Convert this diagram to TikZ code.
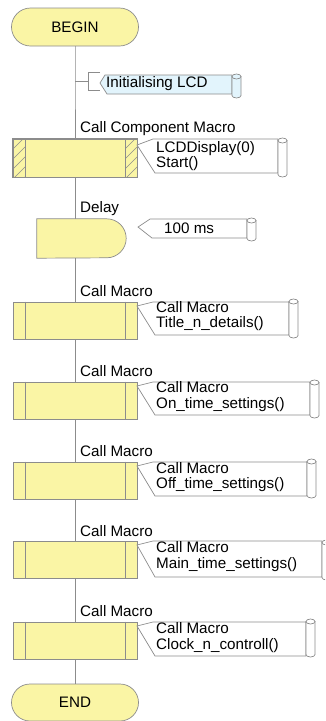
\documentclass[tikz,border=0pt]{standalone}
\usepackage{fontspec}
\setmainfont{Liberation Sans}
\usetikzlibrary{shapes.misc}

\definecolor{blockfill}{RGB}{250,245,165}
\definecolor{edgegray}{RGB}{140,140,140}
\definecolor{notefill}{RGB}{226,244,252}

% comment box: tip x, tip y, left x, top y, bottom y, right x, scroll top, scroll bottom, fill
\newcommand{\notebox}[9]{%
  \draw[flow, fill=#9] (#1,#2) -- (#3,#4) -- (#6,#4) -- (#6,#5) -- (#3+2,#5) -- cycle;
  \draw[flow, fill=#9] (#6,#7+2.5) -- (#6,#8-2.5)
     arc[start angle=180, end angle=360, x radius=4.5pt, y radius=2.5pt]
     -- (#6+9,#7+2.5) -- cycle;
  \draw[flow, fill=#9] (#6+4.5,#7+2.5) ellipse[x radius=4.5pt, y radius=2.5pt];
}

\tikzset{
  every node/.style={font=\fontsize{15.2}{15.5}\selectfont, text=black},
  flow/.style={draw=edgegray, line width=0.7pt},
  blk/.style={flow, fill=blockfill, rectangle, minimum width=124pt, minimum height=37pt, inner sep=0pt},
  term/.style={flow, fill=blockfill, rounded rectangle, minimum width=127pt, minimum height=38pt, inner sep=0pt},
  lbl/.style={anchor=west, inner sep=0pt},
  notetext/.style={anchor=west, align=left, inner sep=0pt},
}

\begin{document}
\begin{tikzpicture}[x=1pt, y=-1pt]
\useasboundingbox (0,0) rectangle (325,721);
\clip (0,0) rectangle (325,721);

% main flow blocks
\node[term] (begin) at (75,27) {BEGIN};
\node[blk, minimum height=38pt] (ccm) at (75,158) {};
\node[minimum width=89pt, minimum height=39pt, inner sep=0pt] (delay) at (81.5,238.5) {};
\node[blk] (m1) at (75,320.5) {};
\node[blk] (m2) at (75,400.5) {};
\node[blk] (m3) at (75,480.5) {};
\node[blk] (m4) at (75,560) {};
\node[blk] (m5) at (75,640.5) {};
\node[term, minimum height=37pt] (end) at (75,702.5) {END};

% main line
\coordinate (br) at (75,81);
\draw[flow] (begin.south) -- (br) -- (ccm.north);
\draw[flow] (ccm.south) -- (ccm.south |- delay.north);
\draw[flow] (ccm.south |- delay.south) -- (m1.north);
\draw[flow] (m1.south) -- (m2.north);
\draw[flow] (m2.south) -- (m3.north);
\draw[flow] (m3.south) -- (m4.north);
\draw[flow] (m4.south) -- (m5.north);
\draw[flow] (m5.south) -- (end.north);

% delay shape
\draw[flow, fill=blockfill] (delay.south west) -- (delay.north west)
  -- ([xshift=-19.5pt]delay.north east)
  arc[start angle=90, end angle=-90, radius=19.5pt] -- cycle;

% hatched side strips of the component macro
\foreach \sx in {13,125} {
  \begin{scope}
    \clip (\sx,139) rectangle (\sx+12,177);
    \foreach \k in {0,10,...,60} {
      \draw[flow, line width=0.5pt] (\sx,139+\k) -- (\sx+13,126+\k);
    }
  \end{scope}
  \draw[flow] (\sx,139) -- (\sx,177);
  \draw[flow] (\sx+12,139) -- (\sx+12,177);
}
\draw[flow] (ccm.north west) rectangle (ccm.south east);

% macro side bars
\foreach \b in {m1,m2,m3,m4,m5} {
  \draw[flow] ([xshift=13pt]\b.north west) -- ([xshift=13pt]\b.south west);
  \draw[flow] ([xshift=-12pt]\b.north east) -- ([xshift=-12pt]\b.south east);
}

% labels above blocks
\node[lbl] (lccm) at (80,129) {Call Component Macro};
\node[lbl] (ldel) at (80,209) {Delay};
\node[lbl] (lm1) at (80,291) {Call Macro};
\node[lbl] (lm2) at (80,371) {Call Macro};
\node[lbl] (lm3) at (80,451) {Call Macro};
\node[lbl] (lm4) at (80,531) {Call Macro};
\node[lbl] (lm5) at (80,611) {Call Macro};

% comment attached to the line
\coordinate (bk) at (88,81);
\draw[flow] (br) -- (bk);
\draw[flow] (100,72) -- (88,72) -- (88,90) -- (100,90);
\notebox{100}{83}{105}{75}{94}{232}{74}{98}{notefill}
\node[notetext] (n0) at (106,84) {Initialising LCD};

% block comments
\notebox{137}{145}{153}{139}{173}{278}{138}{177}{white}
\node[notetext] (n1) at (156,156) {LCDDisplay(0)\\Start()};

\notebox{138}{227}{150}{219}{238}{247}{218}{241}{white}
\node[notetext] (n2) at (164,228.5) {100 ms};

\notebox{137}{306}{153}{302}{335}{289}{299}{338}{white}
\node[notetext] (n3) at (156,316) {Call Macro\\Title\_n\_details()};

\notebox{137}{386}{153}{382}{415}{310}{380}{418}{white}
\node[notetext] (n4) at (156,396.5) {Call Macro\\On\_time\_settings()};

\notebox{137}{466}{153}{462}{496}{307}{459}{498}{white}
\node[notetext] (n5) at (156,477) {Call Macro\\Off\_time\_settings()};

\notebox{137}{545}{153}{541}{577}{322}{540}{580}{white}
\node[notetext] (n6) at (156,556.5) {Call Macro\\Main\_time\_settings()};

\notebox{137}{626}{153}{622}{656}{306}{619}{657}{white}
\node[notetext] (n7) at (156,637.5) {Call Macro\\Clock\_n\_controll()};
\end{tikzpicture}
\end{document}
